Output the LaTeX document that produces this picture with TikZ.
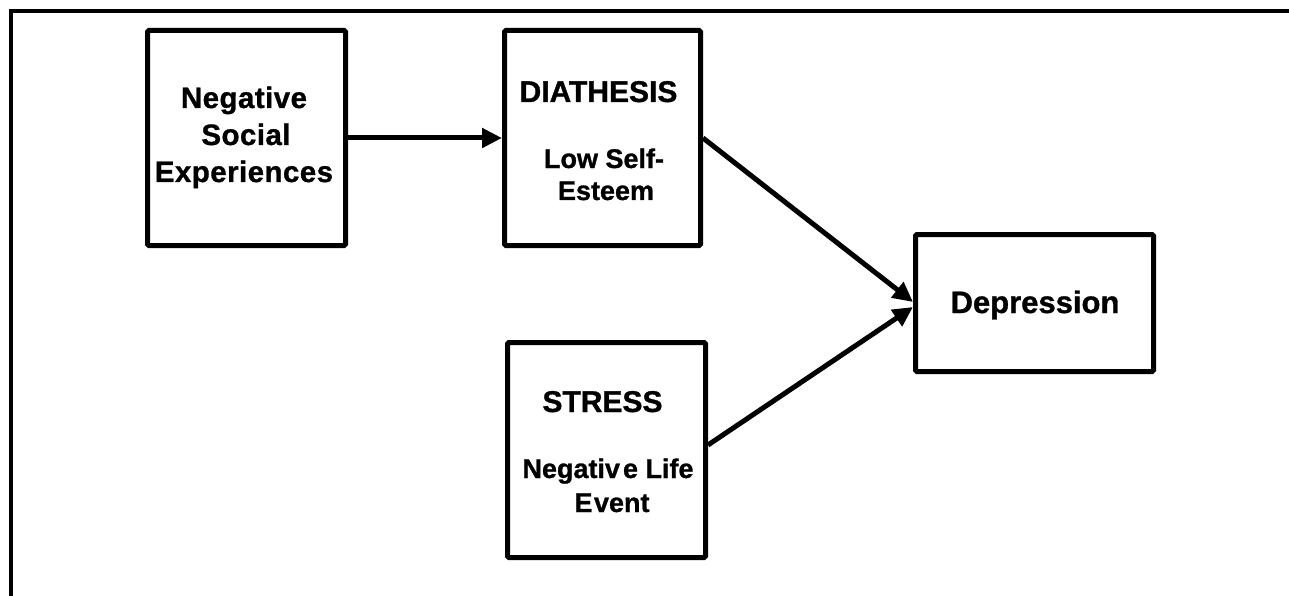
\documentclass[tikz,border=0pt]{standalone}
\usepackage{fontspec}
\setmainfont{Liberation Sans}[BoldFeatures={FakeBold=1}]
\newfontfamily\widefont[LetterSpace=1.5,BoldFeatures={FakeBold=1}]{Liberation Sans}
\usetikzlibrary{arrows.meta,calc}
\begin{document}
\begin{tikzpicture}[x=1pt,y=-1pt,
  box/.style={draw, line width=5pt, rounded corners=1.5pt, inner sep=0pt},
  txt/.style={anchor=base, inner sep=0pt, font=\bfseries\fontsize{27}{32}\selectfont},
  widetxt/.style={anchor=base, inner sep=0pt, font=\widefont\bfseries\fontsize{29.5}{34}\selectfont},
  head/.style={anchor=base, inner sep=0pt, font=\bfseries\fontsize{30}{36}\selectfont},
  link/.style={line width=5pt, -{Triangle[length=20pt,width=19pt]}}]
\useasboundingbox (0,0) rectangle (1289,596);

% open frame: top and left edges only
\draw[line width=4.5pt] (1295,11) -- (11,11) -- (11,600);

% boxes
\node[box, minimum width=198pt, minimum height=215pt] (nse) at (246.5,138) {};
\node[box, minimum width=196pt, minimum height=215pt] (dia) at (602.5,138) {};
\node[box, minimum width=198pt, minimum height=215pt] (str) at (606.5,450) {};
\node[box, minimum width=238pt, minimum height=137pt] (dep) at (1034.5,303) {};

% texts
\node[widetxt] (nse1) at (244,108) {Negative};
\node[widetxt] (nse2) at (246,145) {Social};
\node[widetxt] (nse3) at (244,182) {Experiences};

\node[head] (dia0) at (598.5,102) {DIATHESIS};
\node[txt] (dia1) at (604,168) {Low Self-};
\node[txt] (dia2) at (606,200) {Esteem};

\node[head] (str0) at (602.5,412) {STRESS};
\node[txt] (str1) at (608,478) {Negativ\kern3pt e Life};
\node[txt] (str2) at (612,512) {E\kern1.5pt vent};

\node[head, font=\bfseries\fontsize{31}{36}\selectfont] (dep0) at (1035,313) {Depression};

% connectors
\draw[link] (nse.east) -- (dia.west);
\draw[link] (dia.east) -- ($(dep.west)+(0,-1)$);
\draw[link] ($(str.east)+(0,-5)$) -- ($(dep.west)+(0,4)$);
\end{tikzpicture}
\end{document}
